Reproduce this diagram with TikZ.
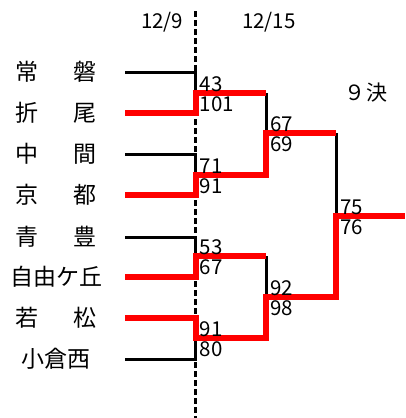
\documentclass[tikz,border=0pt]{standalone}
\usepackage{fontspec}
\newfontfamily\jpfont{Noto Sans CJK JP}
\usepackage{tikz}
\usetikzlibrary{positioning}

\definecolor{winred}{RGB}{255,0,0}

\tikzset{
	team/.style={font=\jpfont\fontsize{23}{23}\selectfont, inner sep=0pt},
	score/.style={font=\jpfont\fontsize{20.5}{21}\selectfont, inner sep=0pt, anchor=base west},
	lose/.style={draw=black, line width=3pt},
	win/.style={draw=winred, line width=6pt, line join=miter},
	dayline/.style={draw=black, line width=3pt, dash pattern=on 6pt off 3pt},
}

\newcommand{\tname}[2]{\makebox[81pt]{#1\hfill#2}}

\begin{document}
\begin{tikzpicture}[x=1pt, y=-1pt]

\useasboundingbox (0,0) rectangle (405,418);

\def \xa{125} % team lines
\def \xb{195.5} % 12/9
\def \xc{266} % 12/15
\def \xd{336} % final
\def \xe{405}

% teams
\foreach \name/\y [count=\i] in {{\tname{常}{磐}}/72, {\tname{折}{尾}}/113, {\tname{中}{間}}/154, {\tname{京}{都}}/195, {\tname{青}{豊}}/237, {自由ケ丘}/277, {\tname{若}{松}}/318, {小倉西}/359} {
	\node[team] (team\i) at (56, \y) {\name};
	\coordinate (s\i) at (\xa, \y);
	\coordinate (e\i) at (\xb, \y);
}

% matches
\coordinate (m1) at (\xb, 93);   \coordinate (m1r) at (\xc, 93);
\coordinate (m2) at (\xb, 175);  \coordinate (m2r) at (\xc, 175);
\coordinate (m3) at (\xb, 256);  \coordinate (m3r) at (\xc, 256);
\coordinate (m4) at (\xb, 338);  \coordinate (m4r) at (\xc, 338);
\coordinate (q1) at (\xc, 133);  \coordinate (q1r) at (\xd, 133);
\coordinate (q2) at (\xc, 297);  \coordinate (q2r) at (\xd, 297);
\coordinate (f)  at (\xd, 216);  \coordinate (fr)  at (\xe, 216);

\coordinate (day top) at (\xb, 11);
\coordinate (day bottom) at (\xb, 418);
\draw[dayline] (day top) -- (day bottom);

\node[score] (day1) at (141, 28) {12/9};
\node[score] (day2) at (242, 28) {12/15};
\node[team, font=\jpfont\fontsize{21}{21}\selectfont] (rank) at (366, 93) {９\hspace{2pt}決};

% losers
\draw[lose] (s1) -- (e1) -- (m1);
\draw[lose] (s3) -- (e3) -- (m2);
\draw[lose] (s5) -- (e5) -- (m3);
\draw[lose] (s8) -- (e8) -- (m4);
\draw[lose] (m1r) -- (q1);
\draw[lose] (m3r) -- (q2);
\draw[lose] (q1r) -- (f);

% winners
\draw[win] (s2) -- (e2) -- (m1) -- (m1r);
\draw[win] (s4) -- (e4) -- (m2) -- (m2r) -- (q1) -- (q1r);
\draw[win] (s6) -- (e6) -- (m3) -- (m3r);
\draw[win] (s7) -- (e7) -- (m4) -- (m4r) -- (q2) -- (q2r) -- (f) -- (fr);

% scores
\foreach \x/\y/\s [count=\i] in {\xb/91/43, \xb/111/101, \xb/173/71, \xb/193/91, \xb/254/53, \xb/274/67, \xb/336/91, \xb/356/80,
	\xc/131/67, \xc/151/69, \xc/295/92, \xc/315/98,
	\xd/214/75, \xd/234/76} {
	\node[score] (score\i) at (\x+4, \y) {\s};
}

\end{tikzpicture}
\end{document}
